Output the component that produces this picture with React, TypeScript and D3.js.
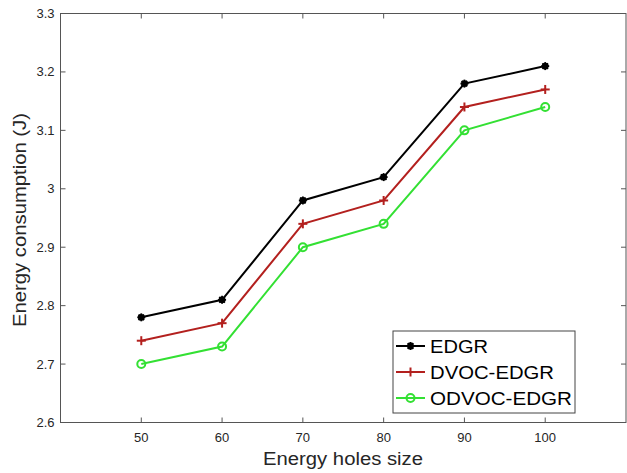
import React from "react";
import * as d3 from "d3";

const holeSizes = [50, 60, 70, 80, 90, 100];
const edgr = [2.78, 2.81, 2.98, 3.02, 3.18, 3.21];
const dvocEdgr = [2.74, 2.77, 2.94, 2.98, 3.14, 3.17];
const odvocEdgr = [2.7, 2.73, 2.9, 2.94, 3.1, 3.14];
const xTicks = [50, 60, 70, 80, 90, 100];
const yTicks = [2.6, 2.7, 2.8, 2.9, 3.0, 3.1, 3.2, 3.3];
const seriesNames = ["EDGR", "DVOC-EDGR", "ODVOC-EDGR"];
const legendTextWidths = [58, 124, 142];

const W = 627;
const H = 473;
const left = 60.5;
const right = 626;
const top = 13.5;
const bottom = 422.5;

const x = d3.scaleLinear().domain([40, 110]).range([left, right]);
const y = d3.scaleLinear().domain([2.6, 3.3]).range([bottom, top]);

const series = [
  { name: seriesNames[0], values: edgr, color: "#000000", marker: "star" },
  { name: seriesNames[1], values: dvocEdgr, color: "#b3201e", marker: "plus" },
  { name: seriesNames[2], values: odvocEdgr, color: "#33e033", marker: "circle" },
];

function Marker({ type, cx, cy, color }: { type: string; cx: number; cy: number; color: string }) {
  if (type === "circle") {
    return <circle cx={cx} cy={cy} r={4} fill="none" stroke={color} strokeWidth={2} />;
  }
  if (type === "plus") {
    return (
      <g stroke={color} strokeWidth={2}>
        <line x1={cx - 4.5} x2={cx + 4.5} y1={cy} y2={cy} />
        <line x1={cx} x2={cx} y1={cy - 4.5} y2={cy + 4.5} />
      </g>
    );
  }
  const r = 4;
  return (
    <g stroke={color} strokeWidth={1.8}>
      <line x1={cx - r} x2={cx + r} y1={cy} y2={cy} />
      <line x1={cx} x2={cx} y1={cy - r} y2={cy + r} />
      <line x1={cx - r * 0.7} x2={cx + r * 0.7} y1={cy - r * 0.7} y2={cy + r * 0.7} />
      <line x1={cx - r * 0.7} x2={cx + r * 0.7} y1={cy + r * 0.7} y2={cy - r * 0.7} />
      <circle cx={cx} cy={cy} r={2.5} fill={color} />
    </g>
  );
}

export default function App() {
  const line = d3
    .line<number>()
    .x((_, i) => x(holeSizes[i]))
    .y((d) => y(d));

  const font = "Arial, 'Liberation Sans', Helvetica, sans-serif";
  const axisColor = "#262626";
  const tickLen = 5;

  const legX = 393;
  const legY = 331;
  const legW = 182;
  const legH = 82;

  return (
    <svg
      width={W}
      height={H}
      style={{ position: "absolute", left: 0, top: 0, background: "#fff" }}
      fontFamily={font}
    >
      <rect x={0} y={0} width={W} height={H} fill="#fff" />
      {/* axes box */}
      <rect
        x={left}
        y={top}
        width={right - left}
        height={bottom - top}
        fill="none"
        stroke="#555"
        strokeWidth={1}
      />
      {/* x ticks */}
      {xTicks.map((t) => (
        <g key={"xt" + t}>
          <line x1={x(t)} x2={x(t)} y1={bottom} y2={bottom - tickLen} stroke="#555" />
          <line x1={x(t)} x2={x(t)} y1={top} y2={top + tickLen} stroke="#555" />
          <text
            x={x(t)}
            y={bottom + 19.5}
            textAnchor="middle"
            fontSize={13}
            fill={axisColor}
          >
            {t}
          </text>
        </g>
      ))}
      {/* y ticks */}
      {yTicks.map((t) => (
        <g key={"yt" + t}>
          <line x1={left} x2={left + tickLen} y1={y(t)} y2={y(t)} stroke="#555" />
          <line x1={right} x2={right - tickLen} y1={y(t)} y2={y(t)} stroke="#555" />
          <text
            x={left - 6}
            y={y(t) + 4.5}
            textAnchor="end"
            fontSize={13}
            fill={axisColor}
          >
            {d3.format("")(+t.toFixed(1))}
          </text>
        </g>
      ))}
      {/* axis labels */}
      <text
        x={263}
        y={465}
        fontSize={17.5}
        fill={axisColor}
        textLength={160}
        lengthAdjust="spacingAndGlyphs"
      >
        Energy holes size
      </text>
      <text
        transform={`translate(25.5, 327) rotate(-90)`}
        fontSize={18}
        fill={axisColor}
        textLength={214}
        lengthAdjust="spacingAndGlyphs"
      >
        Energy consumption (J)
      </text>
      {/* series */}
      {series.map((s) => (
        <g key={s.name}>
          <path d={line(s.values) || ""} fill="none" stroke={s.color} strokeWidth={2} />
          {s.values.map((v, i) => (
            <Marker key={i} type={s.marker} cx={x(holeSizes[i])} cy={y(v)} color={s.color} />
          ))}
        </g>
      ))}
      {/* legend */}
      <rect x={legX} y={legY} width={legW} height={legH} fill="#fff" stroke="#444" strokeWidth={1} />
      {series.map((s, i) => {
        const ly = legY + 15 + i * 26;
        return (
          <g key={"leg" + s.name}>
            <line x1={legX + 3} x2={legX + 32} y1={ly} y2={ly} stroke={s.color} strokeWidth={2} />
            <Marker type={s.marker} cx={legX + 17.5} cy={ly} color={s.color} />
            <text
              x={legX + 37}
              y={ly + 7}
              fontSize={18.5}
              fill="#000"
              textLength={legendTextWidths[i]}
              lengthAdjust="spacingAndGlyphs"
            >
              {s.name}
            </text>
          </g>
        );
      })}
    </svg>
  );
}
